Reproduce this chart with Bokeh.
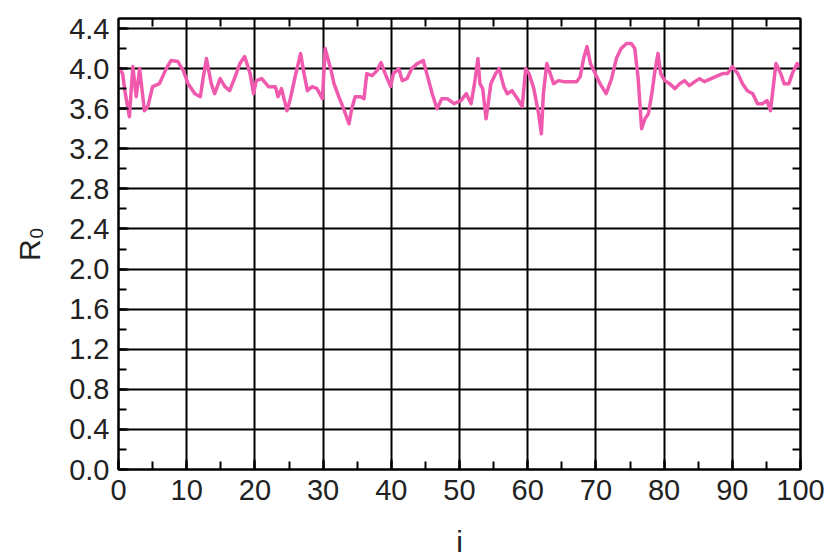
from bokeh.plotting import figure
from bokeh.models import (Range1d, LinearAxis, SingleIntervalTicker, FixedTicker,
                          Grid, PrintfTickFormatter)
from bokeh.embed import file_html
from bokeh.resources import INLINE

# ---- data ----
i_vals = [0, 0.6, 1.0, 1.6, 2.1, 2.6, 3.1, 3.8, 4.3, 5.0, 6.0, 7.0, 7.7, 8.7, 9.5,
          10.2, 11.2, 12.0, 12.4, 12.9, 13.6, 14.1, 14.9, 15.6, 16.3, 17.0, 17.8, 18.5, 19.3, 19.8,
          20.2, 21.0, 22.0, 23.0, 23.4, 23.9, 24.7, 25.2, 26.0, 26.7, 27.2, 27.7, 28.4, 29.1, 29.9,
          30.3, 31.1, 31.6, 32.3, 33.0, 33.8, 34.2, 34.7, 35.5, 36.0, 36.4, 37.2, 37.9, 38.5, 39.1, 39.9,
          40.3, 41.1, 41.6, 42.3, 43.0, 43.8, 44.7, 45.2, 46.0, 46.7, 47.4, 48.2, 49.2,
          50.2, 51.0, 51.7, 52.2, 52.7, 53.0, 53.4, 53.9, 54.6, 55.3, 55.8, 56.5, 57.0, 57.7, 58.5, 59.2, 59.7,
          60.2, 60.9, 61.6, 62.0, 62.3, 62.8, 63.3, 63.8, 64.5, 65.3, 66.2, 67.2, 67.7, 68.2, 68.7, 69.2, 69.9,
          70.6, 71.5, 72.3, 73.0, 73.7, 74.5, 75.2, 75.7, 76.2, 76.7, 77.2, 77.7, 78.2, 78.6, 79.1, 79.5,
          80.1, 80.8, 81.6, 82.3, 83.0, 83.7, 84.5, 85.2, 85.9, 86.9, 87.9, 88.6, 89.3,
          90.0, 90.8, 91.5, 92.2, 93.0, 93.7, 94.4, 95.1, 95.6, 96.4, 97.1, 97.6, 98.3, 98.8, 99.5, 100]
r0_vals = [4.02, 3.95, 3.75, 3.52, 4.02, 3.72, 4.0, 3.58, 3.62, 3.82, 3.85, 4.0, 4.08, 4.07, 3.98,
           3.85, 3.75, 3.72, 3.9, 4.1, 3.85, 3.75, 3.9, 3.82, 3.78, 3.9, 4.05, 4.12, 3.95, 3.75,
           3.88, 3.9, 3.82, 3.82, 3.72, 3.8, 3.58, 3.7, 3.95, 4.15, 3.95, 3.78, 3.82, 3.8, 3.7,
           4.2, 4.0, 3.85, 3.72, 3.6, 3.45, 3.6, 3.72, 3.72, 3.7, 3.95, 3.93, 3.98, 4.06, 3.95, 3.82,
           3.95, 4.0, 3.88, 3.9, 4.0, 4.05, 4.08, 3.95, 3.75, 3.6, 3.7, 3.7, 3.65,
           3.68, 3.75, 3.65, 3.85, 4.1, 3.85, 3.8, 3.5, 3.85, 3.95, 4.0, 3.82, 3.75, 3.78, 3.7, 3.62, 4.0,
           3.95, 3.8, 3.55, 3.35, 3.75, 4.05, 3.95, 3.85, 3.88, 3.87, 3.87, 3.87, 3.92, 4.1, 4.22, 4.05, 3.95,
           3.85, 3.75, 3.9, 4.1, 4.2, 4.25, 4.25, 4.2, 3.9, 3.4, 3.5, 3.55, 3.75, 3.95, 4.15, 3.95,
           3.88, 3.85, 3.8, 3.85, 3.88, 3.83, 3.87, 3.9, 3.87, 3.9, 3.93, 3.95, 3.95,
           4.02, 3.95, 3.85, 3.78, 3.75, 3.65, 3.65, 3.68, 3.58, 4.05, 3.95, 3.85, 3.85, 3.95, 4.05, 4.02]

x_label = "i"
y_label = "R\u2080"

x_major = 10
y_major = 0.4

FONT = "Liberation Sans"

p = figure(width=830, height=560, output_backend="svg", toolbar_location=None,
           x_range=Range1d(0, 100), y_range=Range1d(0, 4.5),
           min_border_left=118, min_border_right=30, min_border_top=18, min_border_bottom=88,
           x_axis_type=None, y_axis_type=None)

p.background_fill_color = "white"
p.border_fill_color = "white"
p.outline_line_color = "black"
p.outline_line_width = 2

xt = SingleIntervalTicker(interval=x_major, num_minor_ticks=2)
yt = SingleIntervalTicker(interval=y_major, num_minor_ticks=2)

# minor-only tickers for the mirrored (unlabelled) top/right axes
xt_mirror = FixedTicker(ticks=[], minor_ticks=[x_major * k + x_major / 2 for k in range(10)])
yt_mirror = FixedTicker(ticks=[], minor_ticks=[round(y_major * k + y_major / 2, 2) for k in range(12)])

def style_axis(ax):
    ax.axis_line_color = "black"
    ax.axis_line_width = 2
    ax.major_tick_in = 10
    ax.major_tick_out = 0
    ax.minor_tick_in = 8
    ax.minor_tick_out = 0
    ax.major_tick_line_color = "black"
    ax.major_tick_line_width = 2
    ax.minor_tick_line_color = "black"
    ax.minor_tick_line_width = 2
    ax.major_label_text_font = FONT
    ax.major_label_text_color = "#222222"
    ax.major_label_text_font_size = "29px"
    ax.axis_label_text_font = FONT
    ax.axis_label_text_font_style = "normal"
    ax.axis_label_text_color = "#222222"
    ax.axis_label_text_font_size = "30px"

xb = LinearAxis(ticker=xt, axis_label=x_label)
style_axis(xb)
xb.major_label_standoff = 10
xb.axis_label_standoff = 22
p.add_layout(xb, "below")

yl = LinearAxis(ticker=yt, axis_label=y_label, formatter=PrintfTickFormatter(format="%.1f"))
style_axis(yl)
yl.major_label_standoff = 9
yl.axis_label_standoff = 20
p.add_layout(yl, "left")

xa = LinearAxis(ticker=xt_mirror)
style_axis(xa)
p.add_layout(xa, "above")

yr = LinearAxis(ticker=yt_mirror)
style_axis(yr)
p.add_layout(yr, "right")

gx = Grid(dimension=0, ticker=xt, grid_line_color="black", grid_line_width=2, grid_line_alpha=1)
gy = Grid(dimension=1, ticker=yt, grid_line_color="black", grid_line_width=2, grid_line_alpha=1)
p.add_layout(gx)
p.add_layout(gy)

p.line(i_vals, r0_vals, line_color="#F05AAE", line_width=3.5, line_join="round")

open("out.html", "w").write(file_html(p, INLINE))
